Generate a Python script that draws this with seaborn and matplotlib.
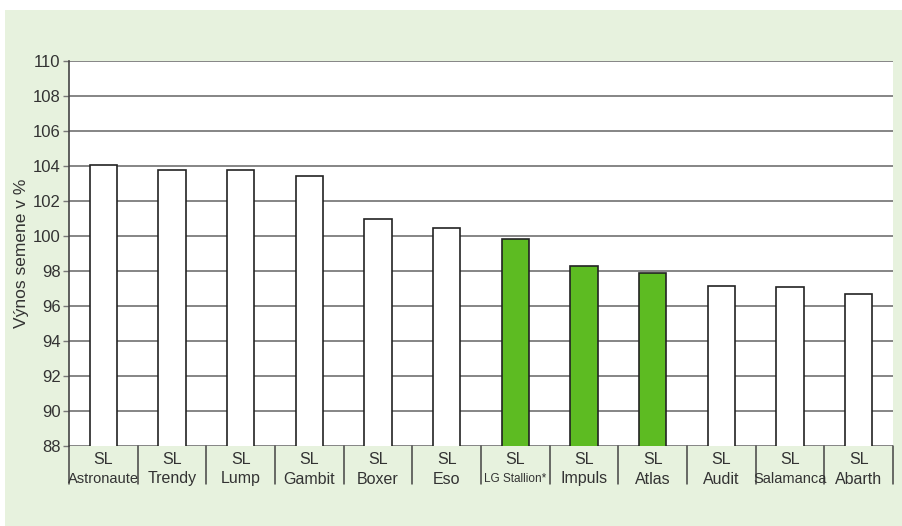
import matplotlib
matplotlib.use("Agg")
import matplotlib.pyplot as plt
import matplotlib.patches as mpatches
import matplotlib.transforms as mtransforms
import seaborn as sns
import pandas as pd

prefix = ["SL"] * 12
varieties = ["Astronaute", "Trendy", "Lump", "Gambit", "Boxer", "Eso",
             "LG Stallion*", "Impuls", "Atlas", "Audit", "Salamanca", "Abarth"]
values = [104.06, 103.77, 103.77, 103.43, 100.97, 100.48,
          99.81, 98.30, 97.87, 97.14, 97.09, 96.70]
highlight = [False, False, False, False, False, False,
             True, True, True, False, False, False]
yticks = [88, 90, 92, 94, 96, 98, 100, 102, 104, 106, 108, 110]
ylabel = "Výnos semene v %"

sns.set_theme(style="white")
FONT = ["Liberation Sans Narrow", "Liberation Sans", "DejaVu Sans"]
plt.rcParams["font.family"] = FONT

df = pd.DataFrame({"cat": [f"{p} {v}" for p, v in zip(prefix, varieties)],
                   "val": values,
                   "grp": ["g" if h else "w" for h in highlight]})

fig = plt.figure(figsize=(9.02, 5.26), dpi=100, facecolor="white")
bg = mpatches.Rectangle((5 / 902, 0), 1 - 5 / 902, 1 - 10 / 526,
                        transform=fig.transFigure, facecolor="#e7f2de",
                        edgecolor="none", zorder=-10)
fig.patches.append(bg)

ax = fig.add_axes([69 / 902, 1 - 446 / 526, (893 - 69) / 902, (446 - 61) / 526])
ax.set_zorder(1)
ax.set_facecolor("white")

sns.barplot(data=df, x="cat", y="val", hue="grp",
            palette={"w": "white", "g": "#5dbb22"}, saturation=1,
            order=df["cat"], width=0.4, edgecolor="#222222", linewidth=1.2,
            dodge=False, legend=False, ax=ax, zorder=3)

ax.set_ylim(88, 110)
ax.set_xlim(-0.5, len(values) - 0.5)
ax.set_yticks(yticks)
ax.set_yticklabels([str(t) for t in yticks], fontsize=12, color="#333333")
ax.yaxis.grid(True, color="#858585", linewidth=1.4, zorder=0)
ax.set_axisbelow(True)
ax.tick_params(axis="y", left=True, length=4, width=1, color="#777777", pad=2)
ax.set_xticks([])
ax.set_xlabel("")
ax.set_ylabel(ylabel, fontsize=12.5, color="#333333", labelpad=3)

for s in ["top", "right", "bottom"]:
    ax.spines[s].set_visible(False)
ax.spines["left"].set_color("#444444")
ax.spines["left"].set_linewidth(1.2)

trans = mtransforms.blended_transform_factory(ax.transData, ax.transAxes)
h = 385.0
for i, (p, v) in enumerate(zip(prefix, varieties)):
    ax.text(i, -14 / h, p, transform=trans, ha="center", va="center",
            fontsize=11.5, color="#333333", clip_on=False)
    if len(v) > 10:
        fs = 8.5
    elif len(v) >= 9:
        fs = 10.5
    else:
        fs = 11.5
    ax.text(i, -33 / h, v, transform=trans, ha="center", va="center",
            fontsize=fs, color="#333333", clip_on=False)
for i in range(len(values) + 1):
    ax.plot([i - 0.5, i - 0.5], [0, -38 / h], transform=trans,
            color="#444444", linewidth=1.1, clip_on=False)

fig.savefig("out.png", dpi=100, facecolor=fig.get_facecolor())
